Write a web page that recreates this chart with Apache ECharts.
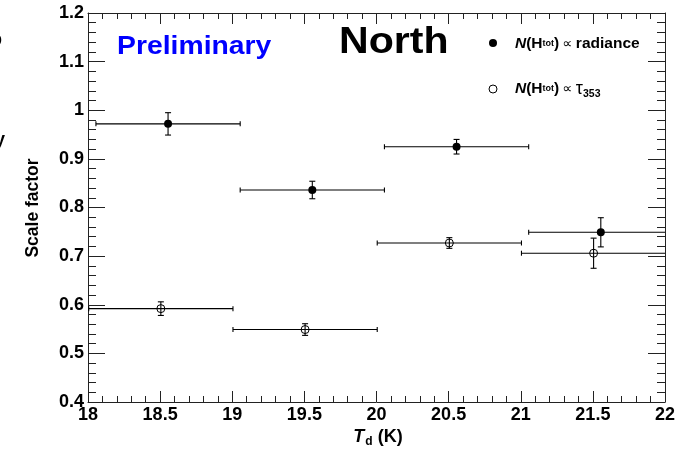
<!DOCTYPE html>
<html>
<head>
<meta charset="utf-8">
<script src="https://cdn.jsdelivr.net/npm/echarts@6/dist/echarts.min.js"></script>
<style>
html,body{margin:0;padding:0;background:#fff;}
#c{width:692px;height:449px;}
</style>
</head>
<body>
<div id="c"></div>
<script>
// ---- data ----
const xTicks = [18, 18.5, 19, 19.5, 20, 20.5, 21, 21.5, 22];
const yTicks = [0.4, 0.5, 0.6, 0.7, 0.8, 0.9, 1, 1.1, 1.2];

const radX    = [18.555, 19.555, 20.555, 21.555];
const radY    = [0.972, 0.836, 0.925, 0.749];
const radYErr = [0.023, 0.018, 0.015, 0.030];
const radXLo  = [18.055, 19.055, 20.055, 21.055];
const radXHi  = [19.055, 20.055, 21.055, 22.055];

const tauX    = [18.505, 19.505, 20.505, 21.505];
const tauY    = [0.592, 0.549, 0.727, 0.706];
const tauYErr = [0.014, 0.012, 0.011, 0.031];
const tauXLo  = [18.005, 19.005, 20.005, 21.005];
const tauXHi  = [19.005, 20.005, 21.005, 22.005];

const FONT = '"Liberation Sans", Arial, Helvetica, sans-serif';
const AX = '#222';

function build(xs, ys, ye, lo, hi) {
  return xs.map((x, i) => [x, ys[i], ye[i], lo[i], hi[i]]);
}
const XMIN = xTicks[0], XMAX = xTicks[xTicks.length - 1];

function errRender(params, api) {
  const x = api.value(0), y = api.value(1), e = api.value(2);
  let lo = api.value(3), hi = api.value(4);
  const capLo = lo >= XMIN, capHi = hi <= XMAX;
  lo = Math.max(lo, XMIN); hi = Math.min(hi, XMAX);
  const pl = api.coord([lo, y]), ph = api.coord([hi, y]);
  const pt = api.coord([x, y + e]), pb = api.coord([x, y - e]);
  const st = {stroke: '#000', lineWidth: 1.1, fill: null};
  const ch = [];
  ch.push({type: 'line', shape: {x1: pl[0], y1: pl[1], x2: ph[0], y2: ph[1]}, style: st});
  if (capLo) ch.push({type: 'line', shape: {x1: pl[0], y1: pl[1] - 2.5, x2: pl[0], y2: pl[1] + 2.5}, style: st});
  if (capHi) ch.push({type: 'line', shape: {x1: ph[0], y1: ph[1] - 2.5, x2: ph[0], y2: ph[1] + 2.5}, style: st});
  ch.push({type: 'line', shape: {x1: pt[0], y1: pt[1], x2: pb[0], y2: pb[1]}, style: st});
  ch.push({type: 'line', shape: {x1: pt[0] - 3, y1: pt[1], x2: pt[0] + 3, y2: pt[1]}, style: st});
  ch.push({type: 'line', shape: {x1: pb[0] - 3, y1: pb[1], x2: pb[0] + 3, y2: pb[1]}, style: st});
  return {type: 'group', children: ch};
}

const chart = echarts.init(document.getElementById('c'), null, {renderer: 'canvas'});

const xCommon = {
  type: 'value', min: XMIN, max: XMAX, interval: 0.5,
  axisLine: {show: true, onZero: false, lineStyle: {color: AX, width: 1}},
  axisTick: {show: true, inside: true, length: 11, lineStyle: {color: AX, width: 1}},
  minorTick: {show: true, splitNumber: 5, length: 6, lineStyle: {color: AX, width: 1}},
  splitLine: {show: false}, minorSplitLine: {show: false}
};
const yCommon = {
  type: 'value', min: yTicks[0], max: yTicks[yTicks.length - 1], interval: 0.1,
  axisLine: {show: true, onZero: false, lineStyle: {color: AX, width: 1}},
  axisTick: {show: true, inside: true, length: 17, lineStyle: {color: AX, width: 1}},
  minorTick: {show: true, splitNumber: 5, length: 8, lineStyle: {color: AX, width: 1}},
  splitLine: {show: false}, minorSplitLine: {show: false}
};

const legRich = {
  n: {fontFamily: FONT, fontWeight: 'bold', fontStyle: 'italic', fontSize: 15.5, fill: '#000'},
  p: {fontFamily: FONT, fontWeight: 'bold', fontSize: 15.5, fill: '#000'},
  s: {fontFamily: FONT, fontWeight: 'bold', fontSize: 9, fill: '#000'},
  q: {fontFamily: '"DejaVu Sans", sans-serif', fontSize: 14, fill: '#000'},
  t: {fontFamily: FONT, fontSize: 18, fill: '#000'},
  u: {fontFamily: FONT, fontWeight: 'bold', fontSize: 10.5, fill: '#000', verticalAlign: 'bottom', padding: [10, 0, 0, 0]}
};

const option = {
  backgroundColor: '#fff',
  animation: false,
  grid: {left: 88, right: 27, top: 13, bottom: 47, containLabel: false, outerBoundsMode: 'none'},
  xAxis: [
    Object.assign({}, xCommon, {
      position: 'bottom',
      axisLabel: {show: true, margin: 4, color: '#000', fontFamily: FONT, fontWeight: 'bold', fontSize: 18,
        formatter: v => String(v), showMinLabel: true, showMaxLabel: true}
    }),
    Object.assign({}, xCommon, {position: 'top', axisLabel: {show: false}})
  ],
  yAxis: [
    Object.assign({}, yCommon, {
      position: 'left',
      axisLabel: {show: true, margin: 4, color: '#000', fontFamily: FONT, fontWeight: 'bold', fontSize: 18,
        formatter: v => String(Number(v.toFixed(1))), showMinLabel: true, showMaxLabel: true}
    }),
    Object.assign({}, yCommon, {position: 'right', axisLabel: {show: false}})
  ],
  series: [
    {type: 'custom', name: 'radErr', xAxisIndex: 0, yAxisIndex: 0, data: build(radX, radY, radYErr, radXLo, radXHi),
      encode: {x: 0, y: 1}, renderItem: errRender, z: 2, silent: true},
    {type: 'custom', name: 'tauErr', xAxisIndex: 0, yAxisIndex: 0, data: build(tauX, tauY, tauYErr, tauXLo, tauXHi),
      encode: {x: 0, y: 1}, renderItem: errRender, z: 2, silent: true},
    {type: 'scatter', name: 'radiance', data: radX.map((x, i) => [x, radY[i]]), symbol: 'circle', symbolSize: 8,
      itemStyle: {color: '#000', opacity: 1}, z: 3, silent: true},
    {type: 'scatter', name: 'tau', data: tauX.map((x, i) => [x, tauY[i]]), symbol: 'circle', symbolSize: 8,
      itemStyle: {color: 'rgba(0,0,0,0)', borderColor: '#000', borderWidth: 1, opacity: 1}, z: 3, silent: true}
  ],
  graphic: [
    {type: 'text', left: 117, top: 34, style: {text: 'Preliminary', fill: '#0000ff', font: 'bold 26px ' + FONT}, scaleX: 1.09},
    {type: 'text', left: 339, top: 24, style: {text: 'North', fill: '#000', font: 'bold 37px ' + FONT}, scaleX: 1.11},
    {type: 'circle', shape: {cx: 493, cy: 43, r: 4}, style: {fill: '#000'}},
    {type: 'circle', shape: {cx: 493, cy: 89, r: 4}, style: {fill: '#fff', stroke: '#000', lineWidth: 1}},
    {type: 'text', x: 515, y: 44, style: {
      text: '{n|N}{p|(H}{s|tot}{p|)} {q|∝} {p|radiance}', verticalAlign: 'middle', align: 'left', rich: legRich}},
    {type: 'text', x: 515, y: 89, style: {
      text: '{n|N}{p|(H}{s|tot}{p|)} {q|∝} {t|τ}{u|353}', verticalAlign: 'middle', align: 'left', rich: legRich}},
    {type: 'text', x: 33, y: 208, rotation: Math.PI / 2, style: {
      text: 'Scale factor', fill: '#000', font: 'bold 17.5px ' + FONT, align: 'center', verticalAlign: 'middle'}},
    {type: 'text', x: 378, y: 437, style: {
      text: '{t|T}{d|d}{p| (K)}', align: 'center', verticalAlign: 'middle',
      rich: {
        t: {fontFamily: FONT, fontWeight: 'bold', fontStyle: 'italic', fontSize: 18, fill: '#000'},
        d: {fontFamily: FONT, fontWeight: 'bold', fontSize: 12, fill: '#000', verticalAlign: 'bottom', padding: [9, 0, 0, 1]},
        p: {fontFamily: FONT, fontWeight: 'bold', fontSize: 18, fill: '#000'}
      }}},
    {type: 'text', x: -9, y: 40, style: {text: 'p', fill: '#000', font: 'bold 18px ' + FONT, verticalAlign: 'middle'}},
    {type: 'text', x: -5, y: 140, style: {text: 'y', fill: '#000', font: 'bold 18px ' + FONT, verticalAlign: 'middle'}}
  ]
};
chart.setOption(option);
</script>
</body>
</html>
